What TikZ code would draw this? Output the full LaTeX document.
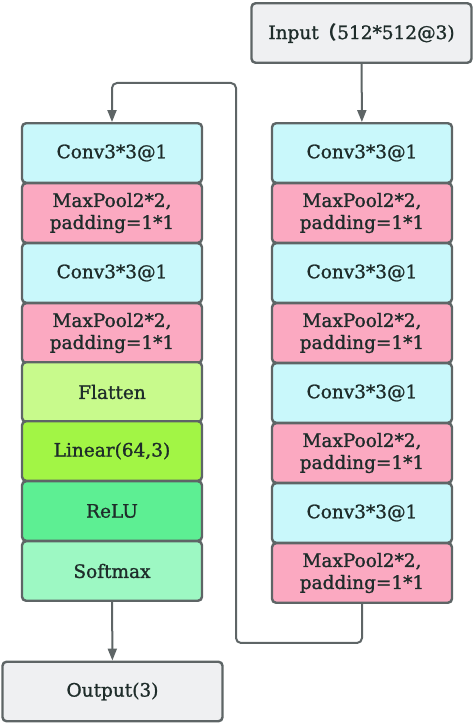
\documentclass[tikz,border=0pt]{standalone}
\usepackage{fontspec}
\setmainfont{DejaVu Serif}[BoldFont={DejaVu Serif},BoldFeatures={FakeBold=1.2}]
\newfontfamily\cjk{Noto Sans CJK SC}
\usepackage{tikz}
\usetikzlibrary{arrows.meta}

\definecolor{convblue}{HTML}{C9F8FB}
\definecolor{poolpink}{HTML}{FBA9C1}
\definecolor{flatgreen}{HTML}{C8FA8C}
\definecolor{lingreen}{HTML}{A2F545}
\definecolor{relugreen}{HTML}{5DEF93}
\definecolor{softgreen}{HTML}{9DF8C3}
\definecolor{iogray}{HTML}{EFF0F2}
\definecolor{edgegray}{HTML}{5E6566}
\definecolor{labelink}{HTML}{1E2C2A}

\begin{document}
\begin{tikzpicture}[x=1pt,y=1pt,
    layer/.style={rectangle,rounded corners=4pt,draw=edgegray,line width=2.4pt,
        minimum width=180pt,minimum height=59.5pt,inner sep=0pt,align=center,
        text=labelink,font=\fontsize{18.5}{22}\selectfont\bfseries},
    conv/.style={layer,fill=convblue},
    pool/.style={layer,fill=poolpink},
    io/.style={layer,fill=iogray,minimum width=220pt},
    link/.style={draw=edgegray,line width=2pt,rounded corners=5pt,
        -{Triangle[length=12pt,width=9pt]}}]
      \useasboundingbox (0,0) rectangle (474,724);
      \node[io] (input) at (361.5,691) {Input{\cjk （}512*512@3)};
      % right column
      \node[conv] (right1) at (362,571) {Conv3*3@1};
      \node[pool] (right2) at (362,511) {MaxPool2*2,\\padding=1*1};
      \node[conv] (right3) at (362,451) {Conv3*3@1};
      \node[pool] (right4) at (362,391) {MaxPool2*2,\\padding=1*1};
      \node[conv] (right5) at (362,331) {Conv3*3@1};
      \node[pool] (right6) at (362,271) {MaxPool2*2,\\padding=1*1};
      \node[conv] (right7) at (362,211) {Conv3*3@1};
      \node[pool] (right8) at (362,151) {MaxPool2*2,\\padding=1*1};
      % left column
      \node[conv] (left1) at (112,571) {Conv3*3@1};
      \node[pool] (left2) at (112,511) {MaxPool2*2,\\padding=1*1};
      \node[conv] (left3) at (112,451) {Conv3*3@1};
      \node[pool] (left4) at (112,391) {MaxPool2*2,\\padding=1*1};
      \node[layer,fill=flatgreen] (left5) at (112,332) {Flatten};
      \node[layer,fill=lingreen] (left6) at (112,273) {Linear(64,3)};
      \node[layer,fill=relugreen] (left7) at (112,213) {ReLU};
      \node[layer,fill=softgreen] (left8) at (112,153) {Softmax};
      \node[io] (output) at (112.5,32.5) {Output(3)};
      \coordinate (turnlow) at (236,81);
      \coordinate (turnhigh) at (236,641);
      \path[link] (input) -- (right1);
      \path[link] (right8.south) |- (turnlow) -- (turnhigh) -| (left1.north);
      \path[link] (left8) -- (output);
    \end{tikzpicture}
\end{document}
